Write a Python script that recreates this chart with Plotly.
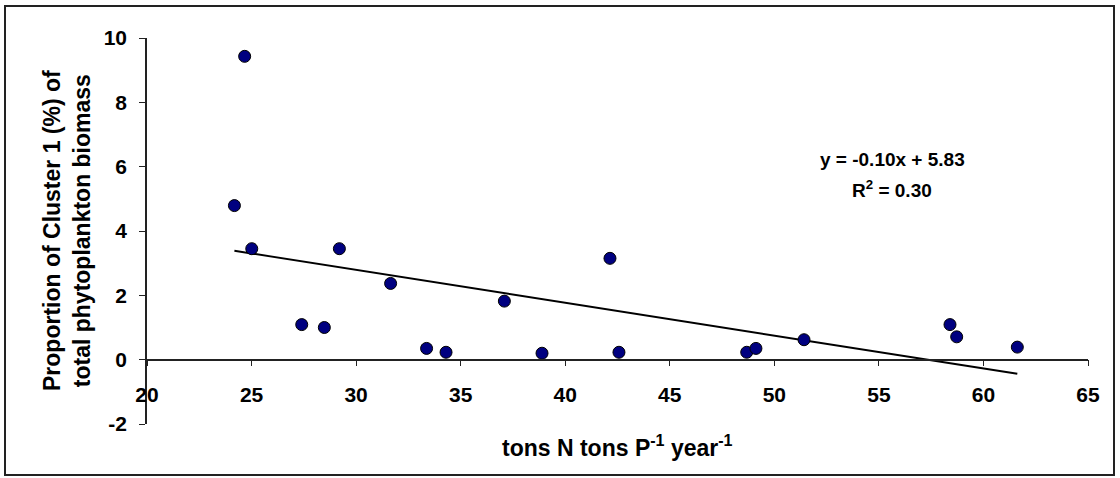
import numpy as np
import plotly.graph_objects as go

# Data
ratio_np = [24.67, 24.18, 25.01, 29.20, 31.65, 27.40, 28.48, 33.37, 34.30, 37.09,
            38.89, 42.14, 42.57, 48.68, 49.12, 51.42, 58.40, 58.72, 61.62]
cluster1_pct = [9.43, 4.79, 3.45, 3.45, 2.37, 1.09, 1.00, 0.35, 0.23, 1.82,
                0.20, 3.15, 0.23, 0.23, 0.35, 0.62, 1.09, 0.71, 0.39]
x_ticks = [20, 25, 30, 35, 40, 45, 50, 55, 60, 65]
y_ticks = [-2, 0, 2, 4, 6, 8, 10]
eq_text = "y = -0.10x + 5.83"
r2_text = "R<sup>2</sup> = 0.30"

# Linear trendline (least squares), drawn from min x to max x
slope, intercept = np.polyfit(ratio_np, cluster1_pct, 1)
trend_x = [min(ratio_np), max(ratio_np)]
trend_y = [slope * v + intercept for v in trend_x]

FONT = "Liberation Sans, Arial, sans-serif"

fig = go.Figure()
fig.add_trace(go.Scatter(
    x=trend_x, y=trend_y, mode="lines",
    line=dict(color="black", width=2), hoverinfo="skip", showlegend=False))
fig.add_trace(go.Scatter(
    x=ratio_np, y=cluster1_pct, mode="markers",
    marker=dict(color="#000080", size=12, line=dict(color="black", width=1)),
    showlegend=False))

W, H = 1120, 478
L, R, T, B = 147, 32, 38, 54
pw, ph = W - L - R, H - T - B

def px(xp):
    return (xp - L) / pw

def py(yp):
    return (H - B - yp) / ph

fig.update_layout(
    width=W, height=H,
    margin=dict(l=L, r=R, t=T, b=B, autoexpand=False),
    paper_bgcolor="white", plot_bgcolor="white",
    font=dict(family=FONT, color="black", size=20, weight="bold"),
    xaxis=dict(
        range=[20, 65], tickvals=x_ticks, ticktext=[str(v) for v in x_ticks],
        showgrid=False, zeroline=False, showline=True, linecolor="#222", linewidth=1.5,
        ticks="outside", ticklen=6, tickwidth=1.3, tickcolor="#222",
        anchor="free", position=(0 - (-2)) / 12.0,
        ticklabelstandoff=10,
        tickfont=dict(family=FONT, size=21, weight="bold", color="black"),
    ),
    yaxis=dict(
        range=[-2, 10], tickvals=y_ticks, ticktext=[str(v) for v in y_ticks],
        showgrid=False, zeroline=False, showline=True, linecolor="#222", linewidth=1.5,
        ticks="outside", ticklen=6, tickwidth=1.3, tickcolor="#222",
        ticklabelstandoff=8,
        tickfont=dict(family=FONT, size=21, weight="bold", color="black"),
    ),
    shapes=[dict(type="rect", xref="paper", yref="paper",
                 x0=px(5), x1=px(1114), y0=py(475), y1=py(6),
                 line=dict(color="#222", width=2), fillcolor="rgba(0,0,0,0)", layer="below")],
    annotations=[
        dict(xref="paper", yref="paper", x=px(67), y=0.5, textangle=-90,
             text="Proportion of Cluster 1 (%) of<br>total phytoplankton biomass",
             showarrow=False, xanchor="center", yanchor="middle",
             font=dict(family=FONT, size=23, weight="bold", color="black")),
        dict(xref="paper", yref="paper", x=0.5, y=py(446),
             text="tons N tons P<sup>-1</sup> year<sup>-1</sup>",
             showarrow=False, xanchor="center", yanchor="middle",
             font=dict(family=FONT, size=23, weight="bold", color="black")),
        dict(xref="paper", yref="paper", x=px(892), y=py(159), text=eq_text,
             showarrow=False, xanchor="center", yanchor="middle",
             font=dict(family=FONT, size=19, weight="bold", color="black")),
        dict(xref="paper", yref="paper", x=px(892), y=py(189), text=r2_text,
             showarrow=False, xanchor="center", yanchor="middle",
             font=dict(family=FONT, size=19, weight="bold", color="black")),
    ],
)

fig.write_html("out.html", config={"displayModeBar": False},
               post_script="document.body.style.margin='0';document.body.style.overflow='hidden';")
